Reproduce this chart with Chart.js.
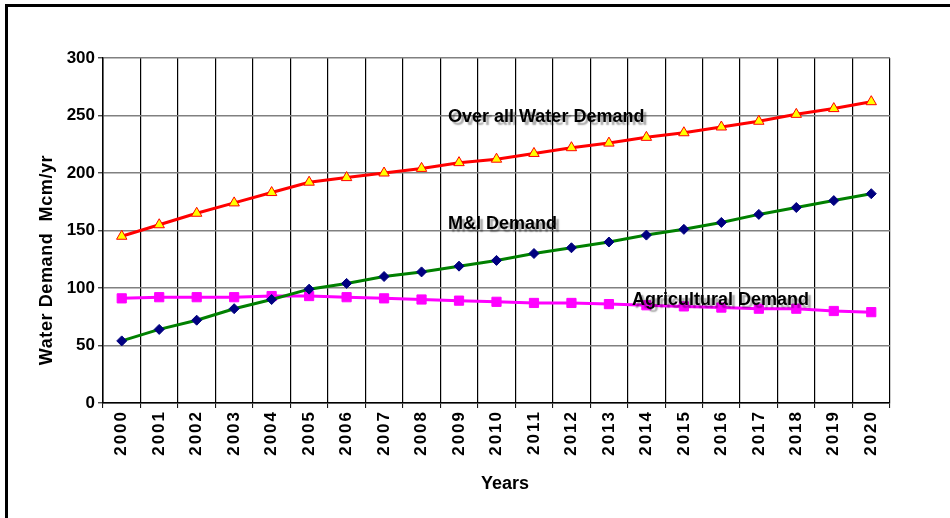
<!DOCTYPE html>
<html>
<head>
<meta charset="utf-8">
<title>Water Demand 2000-2020</title>
<script src="https://cdn.jsdelivr.net/npm/chart.js@4/dist/chart.umd.min.js"></script>
<style>
  html, body { margin: 0; padding: 0; background: #ffffff; }
  #wrap { width: 950px; height: 518px; position: relative; }
</style>
</head>
<body>
<div id="wrap"><canvas id="chart"></canvas></div>
<script>
// Years on the category axis (also the tick labels)
const years = ['2000', '2001', '2002', '2003', '2004', '2005', '2006', '2007', '2008', '2009', '2010',
               '2011', '2012', '2013', '2014', '2015', '2016', '2017', '2018', '2019', '2020'];

// Demand series, Mcm/yr
const overallDemand = [145, 155, 165, 174, 183, 192, 196, 200, 204, 209, 212,
                       217, 222, 226, 231, 235, 240, 245, 251, 256, 262];
const miDemand = [54, 64, 72, 82, 90, 99, 104, 110, 114, 119, 124,
                  130, 135, 140, 146, 151, 157, 164, 170, 176, 182];
const agriculturalDemand = [91, 92, 92, 92, 93, 93, 92, 91, 90, 89, 88,
                            87, 87, 86, 85, 84, 83, 82, 82, 80, 79];

// Value axis range
const yMin = 0;
const yMax = 300;
const yStep = 50;

const FONT = "'Liberation Sans', Arial, Helvetica, sans-serif";

// White page, outer frame, axis titles and the in-plot series captions
const decorations = {
  id: 'decorations',
  beforeDraw(chart) {
    const ctx = chart.ctx;
    ctx.save();
    ctx.fillStyle = '#ffffff';
    ctx.fillRect(0, 0, chart.width, chart.height);
    ctx.restore();
  },
  afterDatasetsDraw(chart) {
    // year labels are drawn after the datasets; give them wide spacing
    chart.ctx.letterSpacing = '2px';
  },
  afterDraw(chart) {
    const ctx = chart.ctx;
    ctx.letterSpacing = '0px';
    ctx.save();

    // frame (top and left edges)
    ctx.fillStyle = '#000000';
    ctx.fillRect(5, 4, chart.width - 5, 3);
    ctx.fillRect(5, 4, 3, chart.height - 4);

    // axis titles
    ctx.fillStyle = '#000000';
    ctx.font = 'bold 18px ' + FONT;
    ctx.textAlign = 'center';
    ctx.textBaseline = 'middle';
    ctx.fillText('Years', 505, 484);

    ctx.save();
    ctx.translate(47, 260);
    ctx.rotate(-Math.PI / 2);
    ctx.letterSpacing = '0.6px';
    ctx.fillText('Water Demand  Mcm/yr', 0, 0);
    ctx.restore();

    // series captions with a soft drop shadow
    ctx.font = 'bold 18px ' + FONT;
    ctx.textAlign = 'left';
    ctx.textBaseline = 'alphabetic';
    ctx.shadowColor = 'rgba(0,0,0,0.35)';
    ctx.shadowOffsetX = 3;
    ctx.shadowOffsetY = 3;
    ctx.shadowBlur = 1.5;
    ctx.fillText('Over all Water Demand', 448, 122);
    ctx.fillText('M&I Demand', 448, 229);
    ctx.fillText('Agricultural Demand', 632, 305);
    ctx.restore();
  }
};

new Chart(document.getElementById('chart'), {
  type: 'line',
  data: {
    labels: years,
    datasets: [
      {
        label: 'Over all Water Demand',
        data: overallDemand,
        borderColor: '#ff0000',
        borderWidth: 3,
        pointStyle: 'triangle',
        pointRadius: 6,
        pointBackgroundColor: '#ffff00',
        pointBorderColor: '#ff0000',
        pointBorderWidth: 1,
        tension: 0
      },
      {
        label: 'M&I Demand',
        data: miDemand,
        borderColor: '#008000',
        borderWidth: 3,
        pointStyle: 'rectRot',
        pointRadius: 5,
        pointBackgroundColor: '#000080',
        pointBorderColor: '#000080',
        pointBorderWidth: 1,
        tension: 0
      },
      {
        label: 'Agricultural Demand',
        data: agriculturalDemand,
        borderColor: '#ff00ff',
        borderWidth: 3,
        pointStyle: 'rect',
        pointRadius: 6.5,
        pointBackgroundColor: '#ff00ff',
        pointBorderColor: '#ff00ff',
        pointBorderWidth: 1,
        tension: 0
      }
    ]
  },
  options: {
    responsive: true,
    maintainAspectRatio: false,
    animation: false,
    devicePixelRatio: 1,
    layout: { padding: { top: 58, right: 60, left: 0, bottom: 0 } },
    plugins: {
      legend: { display: false },
      tooltip: { enabled: false }
    },
    scales: {
      x: {
        type: 'category',
        offset: true,
        afterFit(scale) { scale.height = 115; },
        grid: {
          offset: true,
          color: '#000000',
          lineWidth: 1.2,
          tickLength: 5,
          tickColor: '#000000',
          tickWidth: 1
        },
        border: { display: true, color: '#000000', width: 1.5 },
        ticks: {
          z: 1,
          autoSkip: false,
          maxRotation: 90,
          minRotation: 90,
          padding: 2,
          color: '#000000',
          font: { family: FONT, size: 17, weight: 'bold' }
        }
      },
      y: {
        min: yMin,
        max: yMax,
        afterFit(scale) { scale.width = 103; },
        grid: {
          color: '#808080',
          lineWidth: 1.6,
          tickLength: 5,
          tickColor: '#000000',
          tickWidth: 1
        },
        border: { display: true, color: '#000000', width: 1.5 },
        ticks: {
          stepSize: yStep,
          padding: 3,
          color: '#000000',
          font: { family: FONT, size: 17, weight: 'bold' }
        }
      }
    }
  },
  plugins: [decorations]
});
</script>
</body>
</html>
